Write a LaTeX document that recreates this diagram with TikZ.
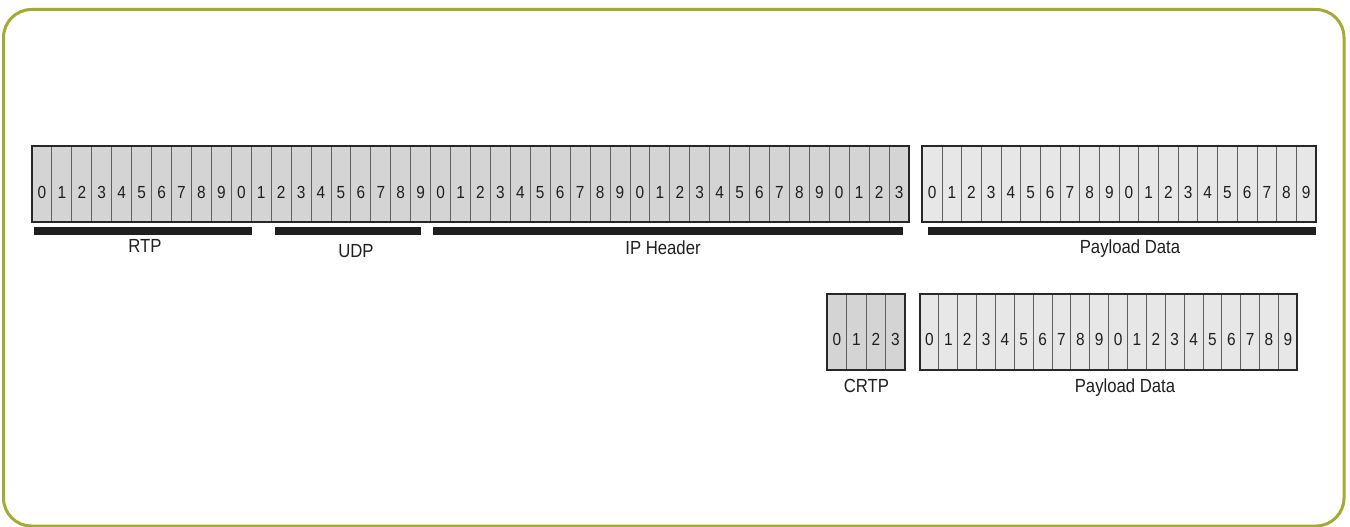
\documentclass[tikz,border=0pt]{standalone}
\usepackage{fontspec}
\setmainfont{Liberation Sans}
\newfontfamily\labfont[FakeStretch=0.88]{Liberation Sans}
\usetikzlibrary{calc}
\definecolor{framecol}{RGB}{164,171,52}
\definecolor{hdrfill}{RGB}{212,212,212}
\definecolor{payfill}{RGB}{231,231,232}
\definecolor{outlcol}{RGB}{40,40,40}
\definecolor{divcol}{RGB}{95,95,95}
\tikzset{
  cellframe/.style={draw=outlcol, line width=2pt, inner sep=0pt, outer sep=0pt},
  divline/.style={draw=divcol, line width=0.9pt},
  digit/.style={inner sep=0pt, anchor=base, font=\labfont\fontsize{17.5}{20}\selectfont, text=black!88},
  barbox/.style={fill=black!88, inner sep=0pt, outer sep=0pt, minimum height=8pt},
  lab/.style={inner sep=0pt, anchor=base, font=\labfont\fontsize{19}{22}\selectfont, text=black!88},
}
% name, x0, y0, x1, y1, number of cells, fill
\newcommand\cellbox[7]{%
  \node[cellframe, fill=#7, anchor=north west, minimum width={#4-#2}, minimum height={#5-#3}] (#1) at (#2,#3) {};
  \pgfmathtruncatemacro\cellsm{#6-1}
  \foreach \i in {1,...,\cellsm} {
    \pgfmathsetmacro\fr{\i/#6}
    \draw[divline] ($(#1.north west)!\fr!(#1.north east)$) -- ($(#1.south west)!\fr!(#1.south east)$);
  }
  \draw[draw=outlcol, line width=2pt] (#1.north west) rectangle (#1.south east);
  \foreach \i in {0,...,\cellsm} {
    \pgfmathtruncatemacro\dig{mod(\i,10)}
    \pgfmathsetmacro\fr{(\i+0.5)/#6}
    \node[digit] (#1d\i) at ($(#1.west)!\fr!(#1.east)+(0,14.2)$) {\dig};
  }
}
\begin{document}
\begin{tikzpicture}[x=1pt,y=-1pt]
\useasboundingbox (0,0) rectangle (1350,527);
\begin{scope}
\clip (0,0) rectangle (1350,527);
\draw[framecol, line width=3pt, rounded corners=28pt] (3.5,9.5) rectangle (1344,526);
\end{scope}

\cellbox{hdr}{32}{146}{909}{222}{44}{hdrfill}
\cellbox{pay}{922.3}{146}{1316}{222}{20}{payfill}
\cellbox{crtp}{827.3}{294}{905}{369.5}{4}{hdrfill}
\cellbox{payb}{920}{294}{1297.3}{369.5}{20}{payfill}

\node[barbox, minimum width=218.3pt] (rtpbar) at (143.2,231.3) {};
\node[barbox, minimum width=146pt] (udpbar) at (347.7,231.3) {};
\node[barbox, minimum width=470pt] (ipbar) at (667.7,231.3) {};
\node[barbox, minimum width=387.7pt] (paybar) at (1122.2,231.3) {};

\node[lab] (rtplab) at (145,252.5) {RTP};
\node[lab] (udplab) at (356,257.5) {UDP};
\node[lab] (iplab) at (663,254) {IP Header};
\node[lab] (paylab) at (1130,253) {Payload Data};
\node[lab] (crtplab) at (866.5,392.5) {CRTP};
\node[lab] (payblab) at (1125,392.5) {Payload Data};
\end{tikzpicture}
\end{document}
